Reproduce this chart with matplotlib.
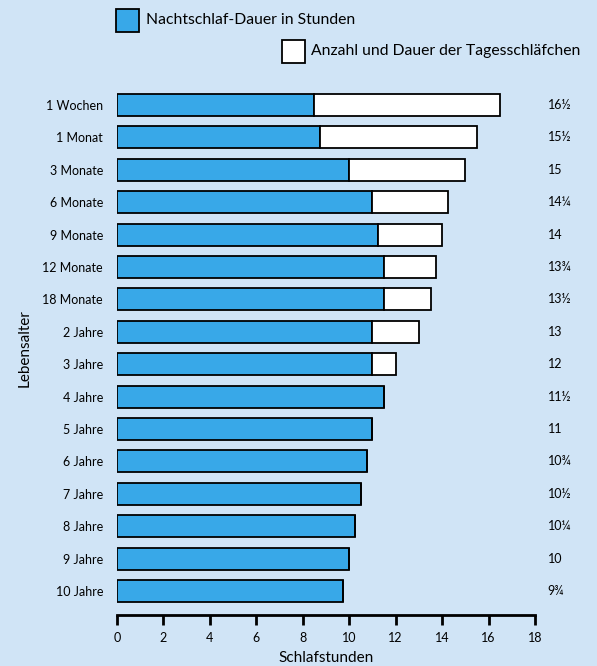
import numpy as np
import matplotlib.pyplot as plt
from matplotlib.patches import Rectangle

AGES = ["1 Wochen", "1 Monat", "3 Monate", "6 Monate", "9 Monate", "12 Monate",
        "18 Monate", "2 Jahre", "3 Jahre", "4 Jahre", "5 Jahre", "6 Jahre",
        "7 Jahre", "8 Jahre", "9 Jahre", "10 Jahre"]
NIGHT = [8.5, 8.75, 10, 11, 11.25, 11.5, 11.5, 11, 11, 11.5, 11, 10.75, 10.5, 10.25, 10, 9.75]
DAY = [8, 6.75, 5, 3.25, 2.75, 2.25, 2, 2, 1, 0, 0, 0, 0, 0, 0, 0]
TOTAL_LABELS = ["16½", "15½", "15", "14¼", "14", "13¾", "13½", "13", "12",
                "11½", "11", "10¾", "10½", "10¼", "10", "9¾"]
X_TICKS = [0, 2, 4, 6, 8, 10, 12, 14, 16, 18]

BG = "#d0e4f6"
BLUE = "#38a8e8"

plt.rcParams["font.family"] = ["Lato", "DejaVu Sans"]


def main():
    fig = plt.figure(figsize=(5.97, 6.66), dpi=100)
    fig.patch.set_facecolor(BG)
    ax = fig.add_axes([117 / 597, 1 - 615 / 666, 418 / 597, 534 / 666])
    ax.set_facecolor(BG)

    y = np.arange(len(AGES))
    ax.barh(y, NIGHT, height=0.68, color=BLUE, edgecolor="black", linewidth=1.3)
    ax.barh(y, DAY, left=NIGHT, height=0.68, color="white", edgecolor="black",
            linewidth=1.3)

    for i, lab in enumerate(TOTAL_LABELS):
        ax.text(18.55, i, lab, ha="left", va="center", fontsize=9, clip_on=False)

    ax.set_xlim(0, 18)
    ax.set_ylim(len(AGES) - 0.26, -0.74)
    ax.set_xticks(X_TICKS)
    ax.set_yticks(y)
    ax.set_yticklabels(AGES, fontsize=9)
    ax.tick_params(axis="y", length=0, pad=10)
    ax.tick_params(axis="x", length=7, width=2, labelsize=9, pad=5)

    for side in ["top", "right", "left"]:
        ax.spines[side].set_visible(False)
    ax.spines["bottom"].set_linewidth(2)

    ax.set_xlabel("Schlafstunden", fontsize=11, labelpad=5)
    ax.set_ylabel("Lebensalter", fontsize=11, labelpad=8)

    # legend
    fig.patches.append(Rectangle((116 / 597, 1 - 32 / 666), 23 / 597, 23 / 666,
                                 transform=fig.transFigure, facecolor=BLUE,
                                 edgecolor="black", linewidth=1.3))
    fig.text(146 / 597, 1 - 20 / 666, "Nachtschlaf-Dauer in Stunden",
             fontsize=11.3, va="center")
    fig.patches.append(Rectangle((282 / 597, 1 - 63 / 666), 23 / 597, 23 / 666,
                                 transform=fig.transFigure, facecolor="white",
                                 edgecolor="black", linewidth=1.3))
    fig.text(311 / 597, 1 - 51 / 666, "Anzahl und Dauer der Tagesschläfchen",
             fontsize=11.3, va="center")

    fig.savefig("out.png", dpi=100, facecolor=BG)
    plt.close(fig)


if __name__ == "__main__":
    main()
